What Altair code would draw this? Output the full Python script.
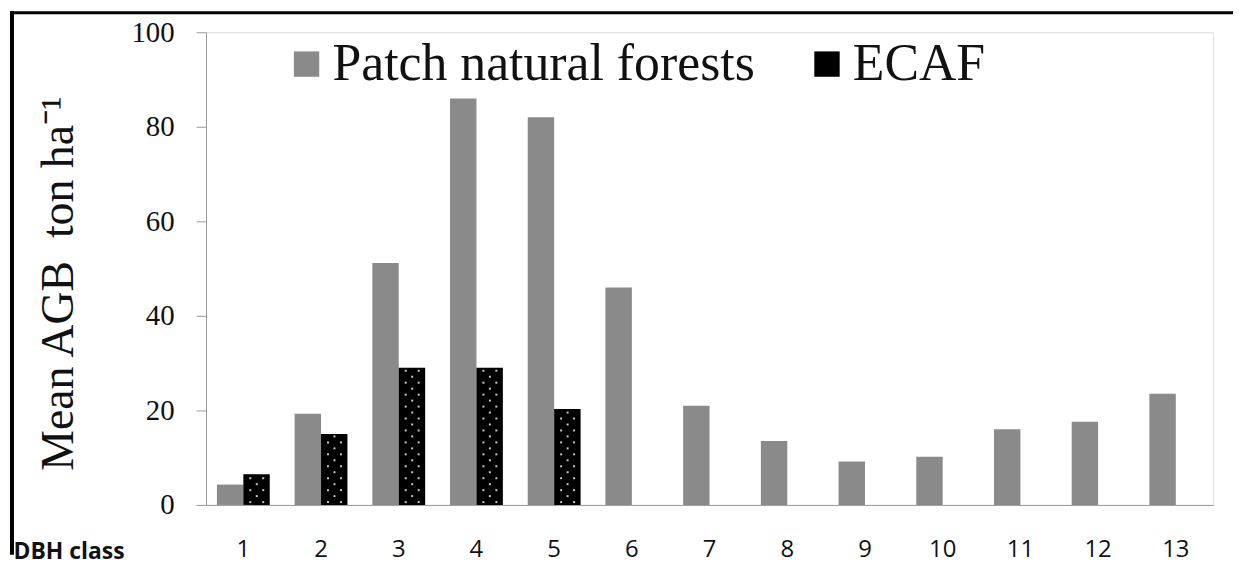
import altair as alt
import pandas as pd

classes = [str(i) for i in range(1, 14)]
patch = [4.3, 19.3, 51.2, 86.0, 82.0, 46.0, 21.0, 13.5, 9.2, 10.2, 16.0, 17.6, 23.5]
ecaf_classes = ["1", "2", "3", "4", "5"]
ecaf = [6.5, 15.0, 29.0, 29.0, 20.3]
series = ["Patch natural forests", "ECAF"]
colors = ["#8a8a8a", "#000000"]

rows = [{"cls": c, "series": series[0], "value": v} for c, v in zip(classes, patch)]
rows += [{"cls": c, "series": series[1], "value": v} for c, v in zip(ecaf_classes, ecaf)]
df = pd.DataFrame(rows)
df_e = pd.DataFrame({"cls": ecaf_classes, "value": ecaf})

xscale = alt.Scale(domain=classes, paddingInner=0.32, paddingOuter=0.14)
yscale = alt.Scale(domain=[0, 100])

bars = alt.Chart(df).mark_bar().encode(
    x=alt.X("cls:N", scale=xscale, sort=classes,
            axis=alt.Axis(title="DBH class", labelAngle=0, ticks=False,
                          domainColor="#9a9a9a", labelFont="Open Sans",
                          labelFontSize=24, labelColor="#111", labelPadding=33,
                          titleFont="Open Sans", titleFontWeight="bold",
                          titleFontSize=23, titleColor="#111",
                          titleAlign="left", titleBaseline="middle",
                          titleAnchor="start", titleX=-194, titleY=47)),
    xOffset=alt.XOffset("series:N", sort=series, scale=alt.Scale(domain=series)),
    y=alt.Y("value:Q", scale=yscale,
            axis=alt.Axis(title="Mean AGB\u00a0 ton ha\u207b\u00b9", values=[0, 20, 40, 60, 80, 100],
                          grid=False, tickSize=10, tickColor="#9a9a9a",
                          domainColor="#9a9a9a", labelFont="Liberation Serif",
                          labelFontSize=29, labelColor="#111", labelPadding=22,
                          titleFont="Liberation Serif", titleFontSize=46,
                          titleFontWeight="normal", titleColor="#111",
                          titleAngle=270, titleBaseline="middle",
                          titleX=-148, titleY=252)),
    color=alt.Color("series:N", sort=series,
                    scale=alt.Scale(domain=series, range=colors),
                    legend=alt.Legend(title=None, orient="none", legendX=75, legendY=6,
                                      direction="horizontal", symbolType="square",
                                      symbolSize=650, symbolStrokeWidth=0,
                                      labelFont="Liberation Serif", labelFontSize=52,
                                      labelColor="#111", labelOffset=0,
                                      columnPadding=46, labelLimit=600)),
)

dots_base = alt.Chart(df_e)
dotsA = dots_base.transform_calculate(
    rowv="sequence(0.6, datum.value - 0.4, 2.526)"
).transform_flatten(["rowv"])
dotsB = dots_base.transform_calculate(
    rowv="sequence(1.863, datum.value - 0.4, 2.526)"
).transform_flatten(["rowv"])

def dot_layer(src, dx):
    return src.mark_point(filled=True, shape="square", size=4, color="#c8c8c8",
                          opacity=1, xOffset=dx).encode(
        x=alt.X("cls:N", scale=xscale, sort=classes),
        y=alt.Y("rowv:Q", scale=yscale),
    )

dots = [dot_layer(dotsA, 7), dot_layer(dotsA, 20), dot_layer(dotsB, 13.5)]

frame_data = alt.Data(values=[{"a": 1}])
left_rule = alt.Chart(frame_data).mark_rule(color="black", strokeWidth=4).encode(
    x=alt.value(-195), y=alt.value(-21), y2=alt.value(525))
top_rule = alt.Chart(frame_data).mark_rule(color="black", strokeWidth=3).encode(
    x=alt.value(-197), x2=alt.value(1032), y=alt.value(-19.5))

chart = alt.layer(bars, *dots, left_rule, top_rule).properties(
    width=1012, height=475, padding=0
).configure_view(stroke=None).configure(background="white")

chart.save("out.html", embed_options={"renderer": "svg", "actions": False})
